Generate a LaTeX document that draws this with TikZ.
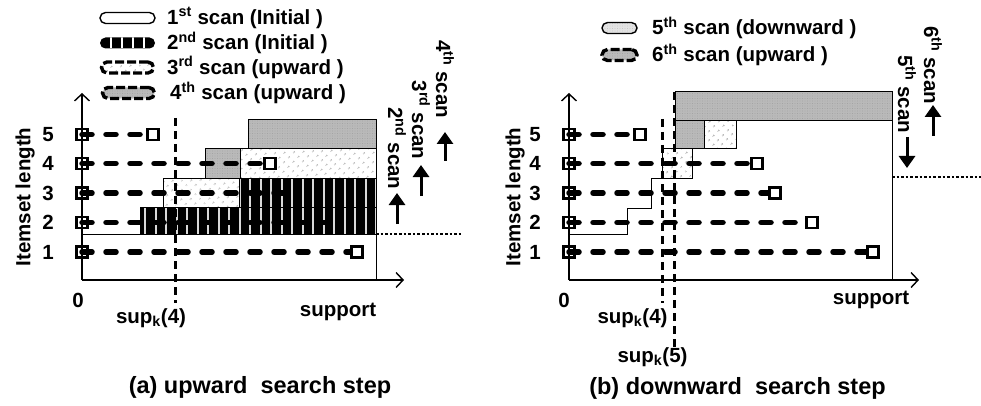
\documentclass[tikz,border=0pt]{standalone}
\usepackage{fontspec}
\setmainfont{Liberation Sans}
\usetikzlibrary{arrows.meta,patterns.meta}

\tikzset{
  lab/.style={font=\bfseries\fontsize{20.5}{23}\selectfont, inner sep=0pt},
  capt/.style={font=\bfseries\fontsize{23.5}{26}\selectfont, inner sep=0pt},
  axisline/.style={line width=1.4pt, -{Straight Barb[length=7pt,width=15pt,line width=1.4pt]}},
  rowline/.style={line width=5.5pt, dash pattern=on 10pt off 14pt, line cap=round},
  supline/.style={line width=3pt, dash pattern=on 8pt off 5pt},
  startmark/.style={draw, line width=2.4pt, minimum size=11pt, inner sep=0pt},
  endmark/.style={draw, fill=white, line width=2.4pt, minimum size=11pt, inner sep=0pt},
  dotline/.style={line width=2.4pt, dash pattern=on 2.6pt off 2pt},
  scanarrow/.style={line width=3pt, -{Triangle[length=12pt,width=16pt]}},
  plain/.style={draw, line width=1pt},
  dotfill/.style={preaction={fill=white}, pattern={Dots[distance=6.5pt,radius=1.1pt,angle=45]}, pattern color=gray!60},
  grayfill/.style={preaction={fill=gray!55}, pattern={Dots[distance=2.5pt,radius=0.45pt]}, pattern color=gray!80},
  capsule/.style={minimum height=11pt, rounded corners=5.5pt, inner sep=0pt},
  cap1/.style={capsule, draw, line width=1.4pt, fill=white, minimum width=55pt},
  cap2/.style={capsule, fill=black, minimum width=55pt,
    path picture={\foreach \i in {-1.5,-0.5,0.5,1.5}
      \draw[white, line width=1.8pt] ([xshift=\i*11pt]path picture bounding box.north) -- ([xshift=\i*11pt]path picture bounding box.south);}},
  cap3/.style={capsule, draw, line width=3.4pt, dash pattern=on 9pt off 3pt, dotfill, minimum width=52pt},
  cap4/.style={capsule, draw, line width=3.4pt, dash pattern=on 9pt off 3pt, grayfill, minimum width=52pt},
  cap5/.style={capsule, draw, line width=1.4pt, preaction={fill=gray!22}, pattern={Dots[distance=2.5pt,radius=0.45pt]}, pattern color=gray!55, minimum width=35pt},
  cap6/.style={capsule, draw, line width=3.4pt, dash pattern=on 9pt off 3pt, grayfill, minimum width=35pt},
}

\begin{document}
\begin{tikzpicture}[x=1pt, y=-1pt]
\useasboundingbox (0,0) rectangle (981,406);

% ================= panel (a): upward search step =================
% regions of the scans
\draw[plain, fill=white] (82,234) rectangle (376,280);
% 2nd scan: black with light vertical stripes
\fill[black] (140,207) rectangle (376,234);
\fill[black] (239,178) rectangle (376,207);
\begin{scope}
  \clip (140,207) rectangle (376,234) (239,178) rectangle (376,207);
  \foreach \x in {145,155.5,...,376} \draw[gray!30, line width=2pt] (\x,176) -- (\x,236);
\end{scope}
\draw[plain] (140,207) rectangle (376,234);
\draw[plain] (239,178) rectangle (376,207);
% 3rd scan: dotted
\draw[plain, dotfill] (163,178) rectangle (239,207);
\draw[plain, dotfill] (240,149) rectangle (376,178);
% 4th scan: gray
\draw[plain, grayfill] (205,149) rectangle (240,178);
\draw[plain, grayfill] (248,120) rectangle (376,149);

% axes
\coordinate (oa) at (82,280);
\coordinate (ya) at (82,93);
\coordinate (xa) at (404,280);
\draw[axisline] (oa) -- (ya);
\draw[axisline] (oa) -- (xa);

% itemset rows
\foreach \r/\y in {1/252,2/222.5,3/193,4/163.5,5/134.5} {
  \node[startmark] (sa\r) at (82,\y) {};
  \node[lab, anchor=center] (na\r) at (48,\y) {\r};
}
\node[endmark] (ea5) at (153,134.5) {};
\node[endmark] (ea4) at (270,163.5) {};
\coordinate (ea3) at (290,193);
\coordinate (ea2) at (325,222.5);
\node[endmark] (ea1) at (357,252) {};
\foreach \r in {1,2,3,4,5} \draw[rowline] (sa\r.center) -- (ea\r);

% sup_k(4)
\coordinate (ta4) at (175,118);
\node[lab] (la4) at (151,318) {sup\textsubscript{k}(4)};
\draw[supline] (ta4) -- (175,303);

\node[lab] (za) at (78,300) {0};
\node[lab] (suppa) at (338,312) {support};
\node[lab, rotate=90] (ila) at (25,197) {Itemset length};

% boundary to the right
\coordinate (da1) at (376,234);
\coordinate (da2) at (463,234);
\draw[dotline] (da1) -- (da2);

% scan direction labels
\node[lab, rotate=-90] (s2) at (397,148.5) {2\textsuperscript{nd} scan};
\node[lab, rotate=-90] (s3) at (421,120) {3\textsuperscript{rd} scan};
\node[lab, rotate=-90] (s4) at (445,79) {4\textsuperscript{th} scan};
\coordinate (b2) at (397,224);
\coordinate (b3) at (421,196);
\coordinate (b4) at (445,161);
\draw[scanarrow] (b2) -- (397,193);
\draw[scanarrow] (b3) -- (421,165);
\draw[scanarrow] (b4) -- (445,132);

% legend
\node[cap1] (k1) at (127.5,18) {};
\node[cap2] (k2) at (127.5,43) {};
\node[cap3] (k3) at (127.5,67.5) {};
\node[cap4] (k4) at (128.5,93) {};
\node[lab, anchor=west] (t1) at (167,18) {1\textsuperscript{st} scan (Initial )};
\node[lab, anchor=west] (t2) at (167,43) {2\textsuperscript{nd} scan (Initial )};
\node[lab, anchor=west] (t3) at (167,67.5) {3\textsuperscript{rd} scan (upward )};
\node[lab, anchor=west] (t4) at (170,93) {4\textsuperscript{th} scan (upward )};

\node[capt] (cpa) at (260,387) {(a) upward\ \ search step};

% ================= panel (b): downward search step =================
% staircase boundary of the initial frequent region
\draw[line width=1pt] (569,234) -- (627,234) -- (627,208) -- (651,208) -- (651,178) -- (662,178);
\draw[plain, grayfill] (675,92) rectangle (892,121);
\draw[line width=1pt] (892,121) -- (892,280);
\draw[plain, grayfill] (675,121) rectangle (704,149);
\draw[plain, dotfill] (704,121) rectangle (736,149);
\draw[plain, dotfill] (662,149) rectangle (692,178);

% axes
\coordinate (ob) at (569,280);
\coordinate (yb) at (569,93);
\coordinate (xb) at (919,280);
\draw[axisline] (ob) -- (yb);
\draw[axisline] (ob) -- (xb);

\foreach \r/\y/\e in {1/252/873,2/222.5/812,3/193/775,4/163.5/757,5/134.5/640} {
  \node[startmark] (sb\r) at (569,\y) {};
  \node[lab] (nb\r) at (535,\y) {\r};
  \node[endmark] (eb\r) at (\e,\y) {};
  \draw[rowline] (sb\r.center) -- (eb\r);
}

% sup_k(4) and sup_k(5)
\coordinate (tb4) at (662,119);
\coordinate (tb5) at (674,92);
\draw[supline] (tb4) -- (662,303);
\draw[supline] (tb5) -- (674,348);
\node[lab] (lb4) at (632.5,318) {sup\textsubscript{k}(4)};
\node[lab] (lb5) at (652.5,357) {sup\textsubscript{k}(5)};

\node[lab] (zb) at (564,300) {0};
\node[lab] (suppb) at (871,300) {support};
\node[lab, rotate=90] (ilb) at (515,197) {Itemset length};

\coordinate (db1) at (892,177);
\coordinate (db2) at (981,177);
\draw[dotline] (db1) -- (db2);

\node[lab, rotate=-90] (s5) at (907,94) {5\textsuperscript{th} scan};
\node[lab, rotate=-90] (s6) at (933,65) {6\textsuperscript{th} scan};
\coordinate (b5) at (907,168);
\coordinate (b6) at (933,136);
\draw[scanarrow] (907,137) -- (b5);
\draw[scanarrow] (b6) -- (933,105);

% legend
\node[cap5] (k5) at (619.5,28) {};
\node[cap6] (k6) at (619.5,55) {};
\node[lab, anchor=west] (t5) at (652,28) {5\textsuperscript{th} scan (downward )};
\node[lab, anchor=west] (t6) at (652,55) {6\textsuperscript{th} scan (upward )};

\node[capt] (cpb) at (737.5,388) {(b) downward\ \ search step};
\end{tikzpicture}
\end{document}
